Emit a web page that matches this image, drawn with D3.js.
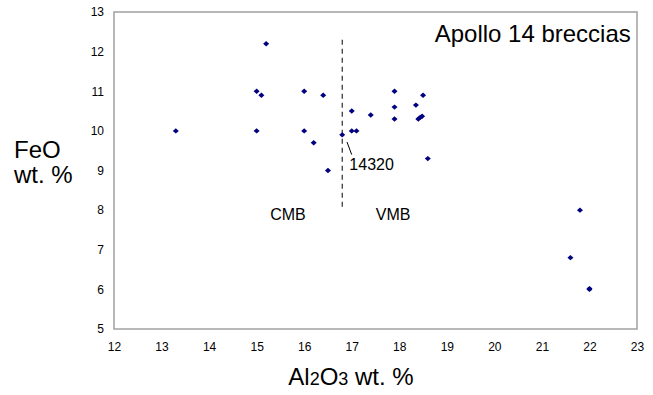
<!DOCTYPE html>
<html>
<head>
<meta charset="utf-8">
<script src="https://cdn.jsdelivr.net/npm/d3@7"></script>
<style>
  body { margin: 0; background: #fff; }
  text { font-family: "Liberation Sans", Arial, sans-serif; fill: #000; }
</style>
</head>
<body>
<div id="chart"></div>
<script>
// breccia samples: Al2O3 wt.% vs FeO wt.%
const al2o3 = [13.3, 15.2, 15.0, 15.1, 16.0, 16.4, 15.0, 16.0, 16.2, 16.8, 16.5,
               17.0, 17.0, 17.1, 17.4, 17.9, 17.9, 17.9, 18.35, 18.5, 18.4, 18.44, 18.48, 18.6,
               21.8, 21.6, 22.0, 22.0];
const feo   = [10.0, 12.2, 11.0, 10.9, 11.0, 10.9, 10.0, 10.0, 9.7, 9.9, 9.0,
               10.5, 10.0, 10.0, 10.4, 11.0, 10.6, 10.3, 10.65, 10.9, 10.3, 10.34, 10.37, 9.3,
               8.0, 6.8, 6.0, 6.02];

const xTicks = d3.range(12, 24);
const yTicks = d3.range(5, 14);

const width = 653;
const height = 395;
const margin = {left: 114, top: 12, right: 16, bottom: 66};

const FONT = "Liberation Sans, Arial, sans-serif";

const svg = d3.select("#chart").append("svg")
  .attr("width", width)
  .attr("height", height);

const x = d3.scaleLinear().domain([12, 23]).range([margin.left, width - margin.right]);
const y = d3.scaleLinear().domain([5, 13]).range([height - margin.bottom, margin.top]);

// frame
svg.append("rect")
  .attr("x", x(12)).attr("y", y(13))
  .attr("width", x(23) - x(12)).attr("height", y(5) - y(13))
  .attr("fill", "none").attr("stroke", "#a0a0a0").attr("stroke-width", 1.5);

// axes (labels only, no ticks)
const xAxis = svg.append("g")
  .attr("transform", `translate(0,${y(5)})`)
  .call(d3.axisBottom(x).tickValues(xTicks).tickSize(0).tickPadding(13).tickFormat(d3.format("d")));
xAxis.select(".domain").remove();
xAxis.selectAll("text").style("font-size", "12px").style("font-family", FONT);

const yAxis = svg.append("g")
  .attr("transform", `translate(${x(12)},0)`)
  .call(d3.axisLeft(y).tickValues(yTicks).tickSize(0).tickPadding(10).tickFormat(d3.format("d")));
yAxis.select(".domain").remove();
yAxis.selectAll("text").style("font-size", "12px").style("font-family", FONT);

// dashed divider between CMB and VMB
svg.append("line")
  .attr("x1", x(16.8)).attr("x2", x(16.8))
  .attr("y1", y(12.3)).attr("y2", y(8.05))
  .attr("stroke", "#000").attr("stroke-width", 1)
  .attr("stroke-dasharray", "5,4");

// leader line for 14320
svg.append("line")
  .attr("x1", x(16.9)).attr("y1", y(9.72))
  .attr("x2", x(17.0)).attr("y2", y(9.4))
  .attr("stroke", "#000").attr("stroke-width", 1);

// diamond markers
svg.append("g")
  .selectAll("path")
  .data(d3.range(al2o3.length))
  .enter()
  .append("path")
  .attr("d", "M0,-2.7L3,0L0,2.7L-3,0Z")
  .attr("transform", (i) => `translate(${x(al2o3[i])},${y(feo[i])})`)
  .attr("fill", "#000080");

// annotations
svg.append("text")
  .attr("x", x(16.95)).attr("y", y(9.02))
  .style("font-size", "16px")
  .text("14320");

svg.append("text")
  .attr("x", x(15.66)).attr("y", y(7.75))
  .attr("text-anchor", "middle")
  .style("font-size", "16px")
  .text("CMB");

svg.append("text")
  .attr("x", x(17.87)).attr("y", y(7.75))
  .attr("text-anchor", "middle")
  .style("font-size", "16px")
  .text("VMB");

svg.append("text")
  .attr("x", x(22.87)).attr("y", y(12.25))
  .attr("text-anchor", "end")
  .style("font-size", "24px")
  .text("Apollo 14 breccias");

// axis titles
svg.append("text")
  .attr("x", 14).attr("y", 158)
  .style("font-size", "24px")
  .text("FeO");
svg.append("text")
  .attr("x", 14).attr("y", 183)
  .style("font-size", "24px")
  .text("wt. %");

const xTitle = svg.append("text")
  .attr("x", 351).attr("y", 385)
  .attr("text-anchor", "middle")
  .style("font-size", "24px");
xTitle.append("tspan").text("Al");
xTitle.append("tspan").style("font-size", "18px").text("2");
xTitle.append("tspan").text("O");
xTitle.append("tspan").style("font-size", "18px").text("3");
xTitle.append("tspan").text(" wt. %");
</script>
</body>
</html>
